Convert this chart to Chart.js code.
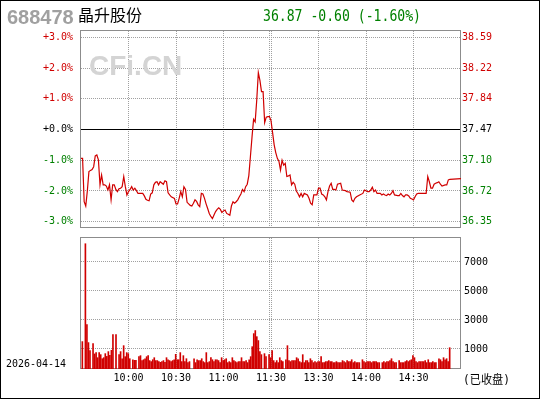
<!DOCTYPE html>
<html>
<head>
<meta charset="utf-8">
<script src="https://cdn.jsdelivr.net/npm/chart.js@4.4.1/dist/chart.umd.min.js"></script>
<style>
  html, body { margin: 0; padding: 0; background: #fff; }
  #wrap { position: relative; width: 540px; height: 400px; overflow: hidden; }
  #wrap canvas { position: absolute; left: 0; }
  #price { top: 0; }
  #vol { top: 229px; }
  #frame { position: absolute; left: 0; top: 0; width: 540px; height: 399px; box-sizing: border-box; border: 1px solid #000; pointer-events: none; }
</style>
</head>
<body>
<div id="wrap">
  <canvas id="price" width="540" height="242"></canvas>
  <canvas id="vol" width="540" height="171"></canvas>
  <div id="frame"></div>
</div>
<script>
const stockCode = '688478';
const stockName = '晶升股份';
const tradeDate = '2026-04-14';
const prevClose = 37.47;
const lastPrice = 36.87;

// minute index since 9:30 (120 = 11:30 / 13:00, 240 = 15:00) and % change vs prev close
const lineMin = [
  0, 1, 2, 3, 4, 5, 6, 7, 8, 9, 10, 11, 12, 13, 14, 15, 16, 17, 18, 19, 20, 21, 22, 23, 24, 25, 26, 27, 28, 29,
  30, 31, 32, 33, 34, 35, 36, 39, 40, 41, 42, 43, 44, 45, 46, 47, 48, 49, 50, 52, 53, 54, 55, 56, 57, 59,
  60, 61, 62, 63, 64, 65, 66, 67, 68, 69, 70, 71, 72, 73, 74, 75, 76, 77, 78, 79, 80, 81, 82, 83, 84, 85, 86, 87, 88, 89,
  90, 91, 92, 93, 94, 95, 96, 97, 98, 99, 100, 101, 102, 103, 104, 105, 106, 107, 108, 109, 110, 111, 112, 113, 114, 115, 116, 117, 118, 119,
  120, 121, 122, 123, 124, 125, 126, 127, 128, 129, 130, 131, 132, 133, 134, 135, 136, 137, 138, 139, 140, 141, 143, 144, 145, 146, 147, 149,
  150, 151, 152, 153, 154, 155, 156, 157, 158, 159, 160, 161, 162, 164, 165, 167, 168, 170, 171, 172, 173, 174, 176, 178, 179,
  181, 182, 183, 184, 185, 186, 187, 189, 190, 191, 192, 193, 194, 195, 196, 197, 198, 200, 201, 202, 203, 204, 205, 206, 207, 208, 209,
  210, 211, 212, 213, 218, 219, 220, 221, 222, 223, 224, 225, 226, 227, 228, 230, 231, 232, 233, 240
];
const linePct = [
  -0.94, -0.94, -2.35, -2.49, -2.00, -1.37, -1.33, -1.30, -1.21, -0.86, -0.83, -0.99, -1.80, -1.48, -1.80, -1.80, -1.84, -1.97, -1.80, -2.29, -1.80, -1.80, -1.95, -2.02, -1.93, -1.91, -1.86, -1.53, -1.86, -2.13,
  -2.02, -1.95, -1.86, -1.97, -1.91, -1.99, -2.08, -2.08, -2.16, -2.27, -2.30, -2.32, -2.10, -2.06, -1.80, -1.72, -1.70, -1.80, -1.70, -1.78, -1.67, -1.70, -2.06, -2.13, -2.19, -2.24,
  -2.42, -2.42, -2.24, -2.02, -2.19, -1.86, -1.95, -2.37, -2.42, -2.47, -2.49, -2.40, -2.29, -2.34, -2.45, -2.51, -2.08, -2.10, -2.24, -2.42, -2.57, -2.73, -2.83, -2.90, -2.78, -2.67, -2.60, -2.55, -2.60, -2.70,
  -2.65, -2.62, -2.73, -2.76, -2.79, -2.49, -2.35, -2.40, -2.35, -2.29, -2.19, -2.10, -1.95, -2.02, -1.86, -1.78, -1.50, -0.88, -0.25, 0.33, 0.25, 0.96, 1.85, 1.60, 1.23, 1.23, 0.22, 0.40, 0.42, 0.42,
  0.29, -0.10, -0.50, -0.75, -0.94, -1.03, -1.32, -1.00, -1.16, -1.10, -1.53, -1.51, -1.48, -1.80, -1.72, -1.78, -2.00, -2.08, -2.19, -2.08, -2.19, -2.08, -2.13, -2.24, -2.40, -2.45, -2.13, -2.13,
  -1.91, -1.91, -2.10, -2.13, -2.19, -2.29, -2.02, -1.84, -1.75, -1.95, -1.95, -1.97, -1.78, -1.75, -1.97, -1.99, -2.02, -2.04, -2.29, -2.35, -2.24, -2.19, -2.13, -2.08, -1.97,
  -2.02, -2.02, -1.97, -1.88, -2.02, -1.97, -2.08, -2.08, -2.13, -2.10, -2.13, -2.15, -2.10, -2.13, -2.08, -1.99, -2.13, -2.15, -2.15, -2.08, -2.15, -2.19, -2.13, -2.13, -2.16, -2.24, -2.26,
  -2.29, -2.19, -2.10, -2.08, -2.08, -1.53, -1.70, -1.91, -1.91, -1.78, -1.75, -1.73, -1.70, -1.78, -1.84, -1.80, -1.80, -1.64, -1.62, -1.60
];

// per-minute volume (lots)
const volMin = [
  0, 2, 3, 4, 5, 7, 8, 9, 10, 11, 12, 13, 14, 15, 16, 17, 18, 19, 20, 22, 24, 25, 26, 27, 28, 29,
  30, 31, 33, 34, 35, 37, 38, 39, 40, 41, 42, 43, 44, 45, 46, 47, 48, 49, 50, 51, 52, 53, 54, 55, 56, 57, 58, 59,
  60, 61, 62, 63, 64, 65, 66, 67, 68, 69, 70, 73, 74, 75, 76, 77, 78, 79, 80, 81, 82, 83, 84, 85, 86, 87, 88, 89,
  90, 91, 92, 93, 94, 95, 96, 97, 98, 99, 100, 101, 102, 103, 104, 105, 106, 107, 108, 109, 110, 111, 112, 113, 114, 115, 116, 117, 119,
  120, 122, 123, 124, 125, 126, 127, 128, 129, 130, 131, 133, 134, 135, 136, 137, 138, 139, 140, 141, 142, 143, 144, 145, 146, 147, 148, 149,
  150, 151, 152, 153, 154, 155, 156, 157, 158, 159, 160, 161, 162, 163, 164, 165, 166, 167, 168, 169, 170, 171, 172, 173, 174, 175, 176, 177, 178, 179,
  180, 181, 183, 184, 185, 186, 187, 188, 189, 190, 191, 192, 193, 194, 196, 197, 198, 199, 200, 201, 202, 203, 204, 205, 207, 208, 209,
  210, 211, 212, 213, 214, 215, 216, 217, 218, 219, 220, 221, 222, 223, 224, 225, 226, 227, 228, 229, 230, 231, 233, 234, 235, 236, 237, 238, 239, 240
];
const volLots = [
  1510, 8260, 2680, 1440, 890, 1370, 660, 750, 400, 750, 610, 330, 400, 680, 490, 820, 560, 910, 1990, 1990, 610, 820, 330, 1230, 470, 750,
  680, 330, 260, 220, 220, 470, 540, 200, 260, 330, 470, 540, 200, 130, 260, 400, 200, 200, 130, 80, 130, 200, 80, 400, 260, 200, 130, 200,
  260, 630, 260, 260, 750, 130, 540, 130, 330, 60, 130, 330, 60, 260, 200, 200, 330, 130, 60, 750, 60, 130, 400, 260, 130, 260, 260, 200,
  60, 400, 200, 260, 330, 60, 130, 60, 400, 200, 130, 60, 130, 130, 400, 130, 130, 200, 60, 260, 470, 1160, 2060, 2270, 1850, 1580, 820, 610, 680,
  470, 610, 400, 890, 200, 60, 200, 60, 400, 200, 130, 260, 1230, 200, 130, 200, 200, 200, 400, 330, 130, 60, 610, 60, 200, 200, 60, 330,
  200, 60, 130, 60, 130, 130, 470, 60, 60, 130, 130, 200, 130, 130, 60, 60, 130, 60, 60, 60, 200, 130, 60, 200, 130, 130, 260, 60, 130, 60,
  60, 60, 260, 130, 60, 130, 130, 130, 60, 130, 130, 130, 60, 60, 60, 130, 60, 130, 130, 200, 330, 130, 60, 60, 200, 60, 60,
  60, 130, 200, 130, 200, 260, 540, 400, 130, 60, 130, 130, 130, 130, 200, 60, 260, 60, 60, 130, 60, 60, 330, 260, 130, 400, 260, 330, 130, 1090
];

const pctTicks = [-3, -2, -1, 0, 1, 2, 3];
const volTicks = [1000, 3000, 5000, 7000];
const timeTicks = [30, 60, 90, 119, 120, 150, 180, 210];
const timeLabels = ['10:00', '10:30', '11:00', '', '11:30', '13:30', '14:00', '14:30'];

const UP = '#d00000';
const DOWN = '#008000';
const GRID = '#a0a0a0';
const FRAME = '#8c8c8c';
const PCT_SPAN = 3.205;
const VOL_MIN = -380;
const VOL_MAX = 8655;

const tone = (p) => (p > 0 ? UP : p < 0 ? DOWN : '#000');

Chart.defaults.font.family = '"DejaVu Sans Mono", monospace';
Chart.defaults.font.size = 10;
Chart.defaults.color = '#000';
Chart.defaults.animation = false;
Chart.defaults.events = [];
Chart.defaults.plugins.legend.display = false;
Chart.defaults.plugins.tooltip.enabled = false;

const frame = {
  id: 'frame',
  beforeDatasetsDraw(chart) {
    const { ctx, chartArea: a } = chart;
    ctx.save();
    ctx.strokeStyle = FRAME;
    ctx.lineWidth = 1;
    ctx.strokeRect(a.left - 0.5, a.top - 0.5, a.right - a.left, a.bottom - a.top);
    ctx.restore();
  },
};

const watermark = {
  id: 'watermark',
  beforeDatasetsDraw(chart) {
    const { ctx } = chart;
    ctx.save();
    ctx.font = 'bold 28px "Liberation Sans"';
    ctx.fillStyle = '#d4d4d4';
    ctx.fillText('CFi.CN', 89, 75, 97);
    ctx.restore();
  },
};

const heading = {
  id: 'heading',
  afterDraw(chart) {
    const { ctx } = chart;
    const chg = lastPrice - prevClose;
    const txt = `${lastPrice.toFixed(2)} ${chg.toFixed(2)} (${(chg / prevClose * 100).toFixed(2)}%)`;
    ctx.save();
    ctx.textBaseline = 'alphabetic';
    ctx.font = 'bold 20px "Liberation Sans"';
    ctx.fillStyle = '#a0a0a0';
    ctx.fillText(stockCode, 7, 24);
    ctx.font = '16px "Noto Sans CJK SC"';
    ctx.fillStyle = '#000';
    ctx.fillText(stockName, 78, 21);
    ctx.font = '15px "DejaVu Sans Mono"';
    ctx.fillStyle = tone(chg);
    ctx.fillText(txt, 263, 20.5, 158);
    ctx.restore();
  },
};

const footer = {
  id: 'footer',
  afterDraw(chart) {
    const { ctx } = chart;
    ctx.save();
    ctx.fillStyle = '#000';
    ctx.font = '11px "DejaVu Sans Mono"';
    ctx.fillText(tradeDate, 6, 138, 60);
    ctx.font = '12px "DejaVu Sans Mono", "Noto Sans CJK SC"';
    ctx.fillText('(已收盘)', 463, 155, 47);
    ctx.restore();
  },
};

const dottedX = {
  type: 'linear',
  min: 0,
  max: 240,
  offset: false,
  afterBuildTicks: (s) => { s.ticks = timeTicks.map((v) => ({ value: v })); },
  grid: { color: GRID, drawTicks: false, offset: false },
  border: { display: false, dash: [1, 1] },
};

new Chart(document.getElementById('price'), {
  type: 'line',
  data: {
    datasets: [{
      data: lineMin.map((m, i) => ({ x: m, y: linePct[i] })),
      yAxisID: 'yPct',
      borderColor: UP,
      borderWidth: 1.2,
      pointRadius: 0,
      tension: 0,
    }],
  },
  options: {
    responsive: false,
    // the left labels' own padding (14px) sets the bottom gap
    layout: { padding: { left: 0, right: 0, top: 31, bottom: 8 } },
    scales: {
      x: {
        ...dottedX,
        ticks: { display: false },
        afterFit: (s) => { s.height = 0; },
      },
      yPct: {
        position: 'left',
        min: -PCT_SPAN,
        max: PCT_SPAN,
        afterBuildTicks: (s) => { s.ticks = pctTicks.map((v) => ({ value: v })); },
        afterFit: (s) => { s.width = 81; },
        ticks: {
          padding: 8,
          color: (c) => tone(c.tick.value),
          callback: (v) => (v >= 0 ? '+' : '') + v.toFixed(1) + '%',
        },
        grid: {
          drawTicks: false,
          color: (c) => (c.tick && c.tick.value === 0 ? '#000' : GRID),
        },
        border: { display: false, dash: (c) => (c.tick && c.tick.value === 0 ? [] : [1, 1]) },
      },
      yPrice: {
        position: 'right',
        min: prevClose * (1 - PCT_SPAN / 100),
        max: prevClose * (1 + PCT_SPAN / 100),
        afterBuildTicks: (s) => { s.ticks = pctTicks.map((p) => ({ value: prevClose * (1 + p / 100) })); },
        afterFit: (s) => { s.width = 79; },
        ticks: {
          padding: 1,
          color: (c) => tone(pctTicks[c.index]),
          callback: (v) => v.toFixed(2),
        },
        grid: { drawOnChartArea: false, drawTicks: false },
        border: { display: false },
      },
    },
  },
  plugins: [frame, watermark, heading],
});

new Chart(document.getElementById('vol'), {
  type: 'bar',
  data: {
    datasets: [{
      data: volMin.map((m, i) => ({ x: m, y: volLots[i] })),
      xAxisID: 'xb',
      yAxisID: 'yv',
      backgroundColor: UP,
      barThickness: 1,
      base: VOL_MIN,
    }],
  },
  options: {
    responsive: false,
    layout: { padding: { left: 81, right: 0, top: 9, bottom: 0 } },
    scales: {
      x: {
        ...dottedX,
        afterFit: (s) => { s.height = 31; },
        ticks: {
          padding: 3,
          maxRotation: 0,
          autoSkip: false,
          callback: (v, i) => timeLabels[i],
        },
      },
      // the source packs its volume bars a little tighter than the price line
      xb: {
        type: 'linear',
        display: false,
        offset: false,
        grid: { offset: false },
        min: -0.87,
        max: 247.4,
      },
      yv: {
        position: 'right',
        min: VOL_MIN,
        max: VOL_MAX,
        afterBuildTicks: (s) => { s.ticks = volTicks.map((v) => ({ value: v })); },
        afterFit: (s) => { s.width = 79; },
        ticks: { padding: 3, color: '#000', callback: (v) => String(v) },
        grid: { color: GRID, drawTicks: false },
        border: { display: false, dash: [1, 1] },
      },
    },
  },
  plugins: [frame, footer],
});
</script>
</body>
</html>
